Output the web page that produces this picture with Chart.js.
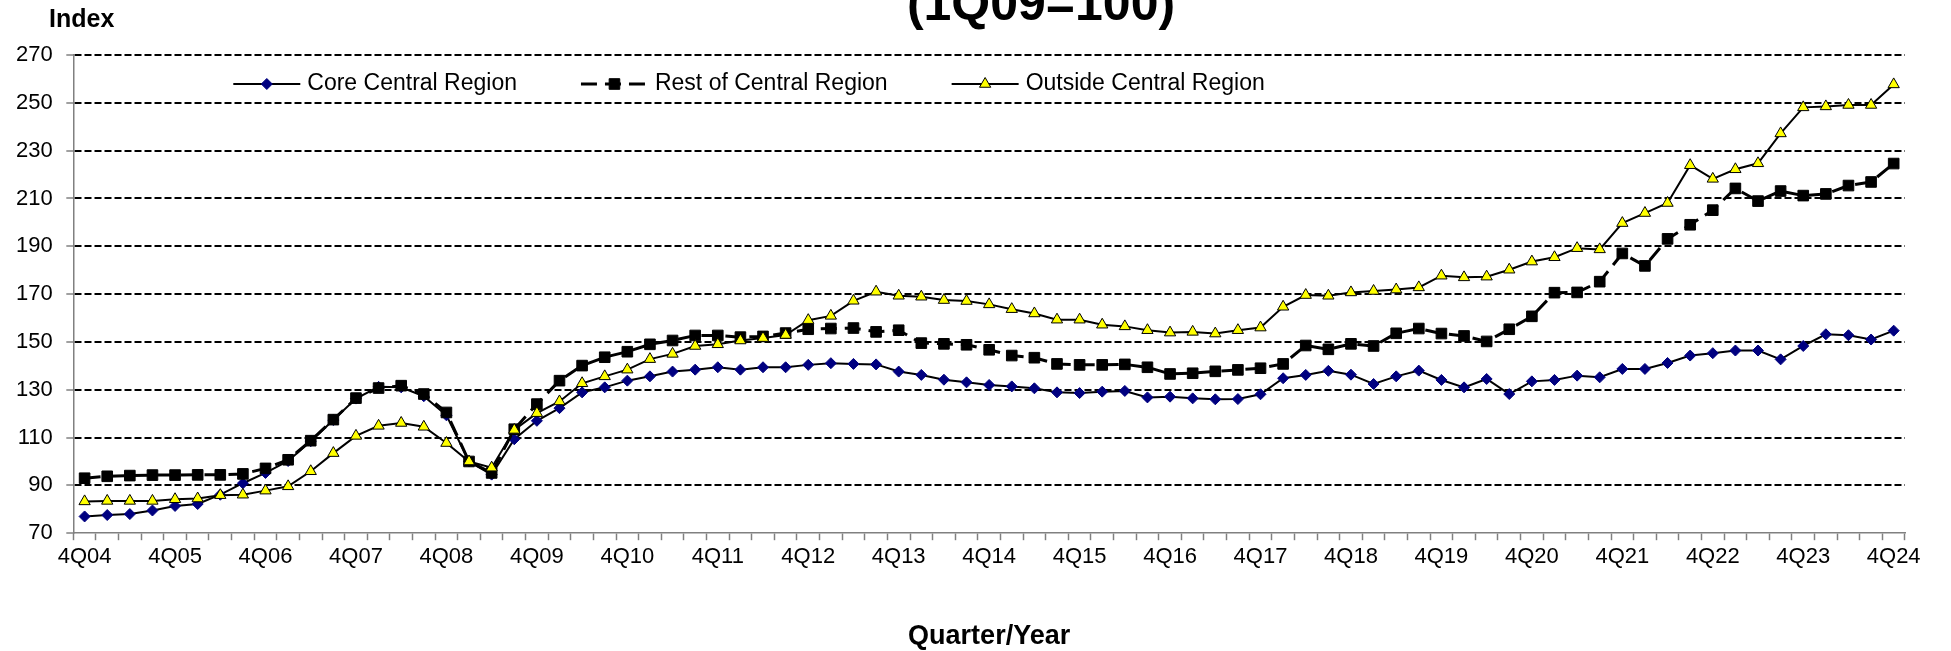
<!DOCTYPE html>
<html>
<head>
<meta charset="utf-8">
<script src="https://cdn.jsdelivr.net/npm/chart.js@4.4.1/dist/chart.umd.min.js"></script>
<style>
  html, body { margin: 0; padding: 0; background: #fff; }
  canvas { display: block; }
</style>
</head>
<body>
<canvas id="indexChart" width="1951" height="651"></canvas>
<script>
const FONT = "'Liberation Sans', Arial, sans-serif";

const quarters = [
    '4Q04',
    '1Q05', '2Q05', '3Q05', '4Q05',
    '1Q06', '2Q06', '3Q06', '4Q06',
    '1Q07', '2Q07', '3Q07', '4Q07',
    '1Q08', '2Q08', '3Q08', '4Q08',
    '1Q09', '2Q09', '3Q09', '4Q09',
    '1Q10', '2Q10', '3Q10', '4Q10',
    '1Q11', '2Q11', '3Q11', '4Q11',
    '1Q12', '2Q12', '3Q12', '4Q12',
    '1Q13', '2Q13', '3Q13', '4Q13',
    '1Q14', '2Q14', '3Q14', '4Q14',
    '1Q15', '2Q15', '3Q15', '4Q15',
    '1Q16', '2Q16', '3Q16', '4Q16',
    '1Q17', '2Q17', '3Q17', '4Q17',
    '1Q18', '2Q18', '3Q18', '4Q18',
    '1Q19', '2Q19', '3Q19', '4Q19',
    '1Q20', '2Q20', '3Q20', '4Q20',
    '1Q21', '2Q21', '3Q21', '4Q21',
    '1Q22', '2Q22', '3Q22', '4Q22',
    '1Q23', '2Q23', '3Q23', '4Q23',
    '1Q24', '2Q24', '3Q24', '4Q24',
]

const coreCentral = [
    77.0,
    77.6, 78.0, 79.5, 81.4,
    82.2, 86.1, 90.9, 95.2,
    100.2, 108.5, 117.3, 126.3,
    131.2, 131.0, 127.3, 119.3,
    100.0, 94.5, 109.3, 117.0,
    122.3, 128.9, 131.0, 133.8,
    135.6, 137.6, 138.4, 139.4,
    138.4, 139.4, 139.4, 140.4,
    141.1, 140.8, 140.6, 137.6,
    136.2, 134.2, 133.1, 132.0,
    131.4, 130.6, 128.9, 128.6,
    129.2, 129.5, 126.8, 127.1,
    126.4, 126.0, 126.1, 128.1,
    134.8, 136.2, 137.9, 136.3,
    132.4, 135.6, 138.0, 134.1,
    131.0, 134.5, 128.2, 133.5,
    134.1, 135.9, 135.2, 138.7,
    138.7, 141.2, 144.3, 145.3,
    146.4, 146.4, 142.7, 148.3,
    153.2, 152.8, 151.0, 154.7,
]

const restOfCentral = [
    93.0,
    93.8, 94.1, 94.3, 94.3,
    94.4, 94.4, 94.8, 97.1,
    100.7, 108.7, 117.5, 126.5,
    130.7, 131.7, 128.2, 120.5,
    100.0, 95.2, 113.5, 124.0,
    133.8, 140.1, 143.6, 145.9,
    149.0, 150.6, 152.7, 152.7,
    152.0, 152.3, 153.7, 155.3,
    155.6, 155.8, 154.2, 154.9,
    149.5, 149.2, 148.8, 146.7,
    144.3, 143.4, 140.8, 140.4,
    140.4, 140.6, 139.4, 136.6,
    136.9, 137.7, 138.3, 139.0,
    140.8, 148.5, 146.9, 149.2,
    148.3, 153.6, 155.6, 153.5,
    152.5, 150.2, 155.3, 160.7,
    170.6, 170.7, 175.2, 187.0,
    181.8, 193.1, 199.0, 205.1,
    214.2, 208.9, 213.1, 211.2,
    211.9, 215.4, 216.9, 224.6,
]

const outsideCentral = [
    83.3,
    83.5, 83.5, 83.5, 84.2,
    84.5, 85.9, 86.1, 87.8,
    89.6, 95.9, 103.5, 110.7,
    114.9, 116.1, 114.5, 107.7,
    100.0, 97.4, 113.2, 120.2,
    125.1, 132.7, 135.6, 138.4,
    142.8, 145.0, 148.3, 149.0,
    150.6, 151.6, 152.9, 159.1,
    160.9, 167.2, 171.0, 169.3,
    168.9, 167.5, 167.1, 165.7,
    163.7, 161.9, 159.3, 159.3,
    157.2, 156.5, 154.9, 153.9,
    154.2, 153.5, 154.9, 156.0,
    164.7, 169.6, 169.3, 170.7,
    171.3, 171.9, 172.8, 177.7,
    177.0, 177.3, 180.2, 183.6,
    185.4, 189.2, 188.7, 199.7,
    203.9, 208.1, 223.9, 218.2,
    222.2, 224.7, 237.2, 248.1,
    248.5, 249.1, 249.1, 257.7,
]

// y axis range, one gridline every 20 points
const yMin = 70;
const yMax = 270;
const yStep = 20;

// Excel-like extras: caption, cut title and the in-plot legend
const excelDecor = {
    id: 'excelDecor',
    afterDraw(chart) {
        const ctx = chart.ctx;
        ctx.save();
        ctx.fillStyle = '#000';
        ctx.textAlign = 'left';
        ctx.textBaseline = 'alphabetic';
        ctx.font = `bold 25px ${FONT}`;
        ctx.fillText('Index', 49, 27);

        ctx.font = `bold 50px ${FONT}`;
        ctx.textAlign = 'center';
        ctx.fillText('(1Q09=100)', 1041, 20);

        ctx.font = `23px ${FONT}`;
        ctx.textAlign = 'left';
        ctx.textBaseline = 'middle';
        let x = chart.chartArea.left + 160;
        const y = 84;
        chart.data.datasets.forEach(ds => {
            ctx.save();
            ctx.strokeStyle = ds.borderColor;
            ctx.lineWidth = ds.borderWidth;
            ctx.setLineDash(ds.borderDash || []);
            ctx.beginPath();
            ctx.moveTo(x, y);
            ctx.lineTo(x + 67, y);
            ctx.stroke();
            ctx.restore();

            ctx.save();
            ctx.fillStyle = ds.pointBackgroundColor;
            ctx.strokeStyle = ds.pointBorderColor;
            ctx.lineWidth = ds.pointBorderWidth;
            Chart.helpers.drawPoint(ctx, {
                pointStyle: ds.pointStyle,
                radius: ds.pointRadius,
                rotation: 0,
                borderWidth: ds.pointBorderWidth
            }, x + 33.5, y);
            ctx.restore();

            ctx.fillText(ds.label, x + 74, y);
            x += 74 + ctx.measureText(ds.label).width + 64;
        });
        ctx.restore();
    }
};

const ctx = document.getElementById('indexChart').getContext('2d');

const indexChart = new Chart(ctx, {
    type: 'line',
    data: {
        labels: quarters,
        datasets: [{
            label: 'Core Central Region',
            data: coreCentral,
            borderColor: '#000',
            borderWidth: 2,
            pointStyle: 'rectRot',
            pointRadius: 5.5,
            pointBackgroundColor: '#000080',
            pointBorderColor: '#000080',
            pointBorderWidth: 1,
            order: 3,
        }, {
            label: 'Rest of Central Region',
            data: restOfCentral,
            borderColor: '#000',
            borderWidth: 3,
            borderDash: [16, 8],
            pointStyle: 'rect',
            pointRadius: 7.5,
            pointBackgroundColor: '#000',
            pointBorderColor: '#000',
            pointBorderWidth: 1,
            order: 2,
        }, {
            label: 'Outside Central Region',
            data: outsideCentral,
            borderColor: '#000',
            borderWidth: 2,
            pointStyle: 'triangle',
            pointRadius: 6.5,
            pointBackgroundColor: '#ffff00',
            pointBorderColor: '#000',
            pointBorderWidth: 1,
            order: 1,
        }]
    },
    options: {
        responsive: false,
        animation: false,
        layout: {
            padding: { left: 16, right: 46, top: 55, bottom: 0 }
        },
        plugins: {
            legend: { display: false },
            tooltip: { enabled: false },
        },
        scales: {
            x: {
                offset: true,
                afterFit: (scale) => {
                    // keep the plot edges where the original has them
                    scale.paddingLeft = 0;
                    scale.paddingRight = 0;
                },
                grid: {
                    offset: true,
                    drawOnChartArea: false,
                    tickLength: 7,
                    tickColor: '#808080',
                    tickWidth: 1.5,
                },
                border: { color: '#808080', width: 1.5 },
                ticks: {
                    autoSkip: false,
                    maxRotation: 0,
                    padding: 4,
                    color: '#000',
                    font: { size: 22, family: FONT },
                    callback: function (value) {
                        const q = this.getLabelForValue(value);
                        return q.startsWith('4Q') ? q : '';
                    }
                },
                title: {
                    display: true,
                    text: 'Quarter/Year',
                    color: '#000',
                    font: { size: 27, weight: 'bold', family: FONT },
                    padding: { top: 46, bottom: -2 }
                }
            },
            y: {
                min: yMin,
                max: yMax,
                afterFit: (scale) => {
                    scale.width = 57.3;
                },
                grid: {
                    color: (c) => c.tick && c.tick.value === yMin ? 'rgba(0,0,0,0)' : '#000',
                    lineWidth: 2,
                    tickLength: 7,
                    tickColor: '#808080',
                    tickWidth: 1.5,
                },
                border: { color: '#808080', width: 1.5, dash: [7, 3] },
                ticks: {
                    stepSize: yStep,
                    padding: 13.6,
                    color: '#000',
                    font: { size: 22, family: FONT },
                }
            }
        }
    },
    plugins: [excelDecor]
});
</script>
</body>
</html>
